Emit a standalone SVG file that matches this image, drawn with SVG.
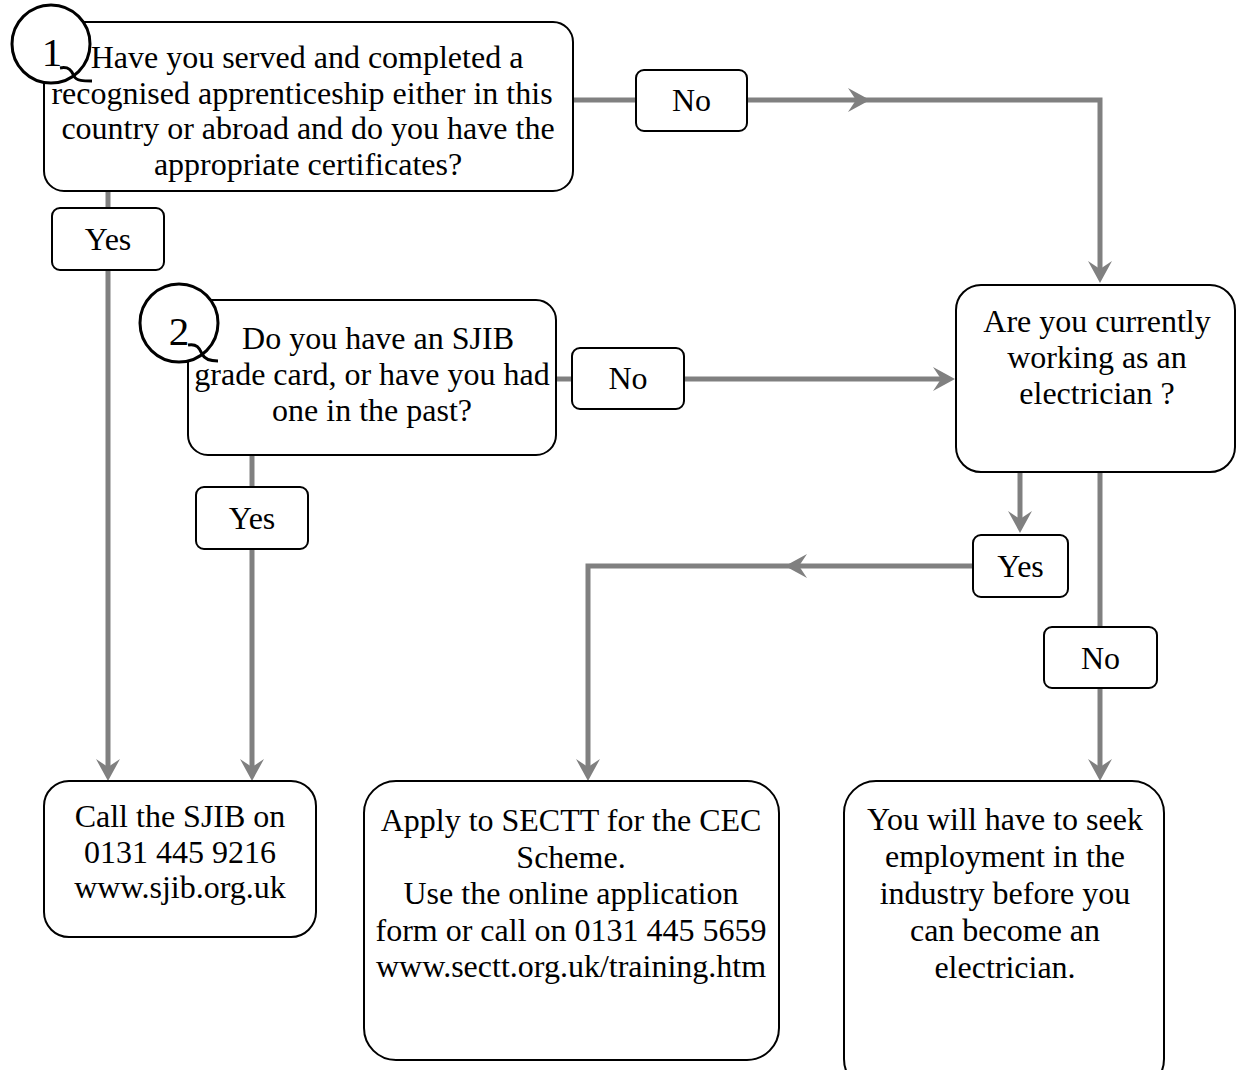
<svg xmlns="http://www.w3.org/2000/svg" width="1236" height="1070" viewBox="0 0 1236 1070">
<style>
.box{fill:#fff;stroke:#000;stroke-width:2}
.lbl{fill:#fff;stroke:#000;stroke-width:2}
.num{fill:#fff;stroke:#000;stroke-width:3}
.tail{fill:none;stroke:#000;stroke-width:3}
text{font-family:"Liberation Serif","Times New Roman",serif;font-size:32px;fill:#000;text-anchor:middle}
text.n{font-size:41px}
.conn{fill:none;stroke:#808080;stroke-width:5}
.arr{marker-end:url(#ah)}
</style>
<defs>
<marker id="ah" viewBox="0 0 22 24" refX="9" refY="12" markerWidth="22" markerHeight="24" markerUnits="userSpaceOnUse" orient="auto">
<path d="M0,0 L22,12 L0,24 L8,12 Z" fill="#808080"/>
</marker>
</defs>
<rect width="1236" height="1070" fill="#fff"/>
<g id="connectors">
<path class="conn" d="M573,100 L636,100"/>
<path class="conn arr" d="M747,100 L857,100"/>
<path class="conn arr" d="M855,100 L1100,100 L1100,270"/>
<path class="conn" d="M556,379 L572,379"/>
<path class="conn arr" d="M684,379 L942,379"/>
<path class="conn" d="M108,191 L108,208"/>
<path class="conn arr" d="M108,270 L108,768"/>
<path class="conn" d="M252,455 L252,487"/>
<path class="conn arr" d="M252,549 L252,768"/>
<path class="conn arr" d="M1020,472 L1020,520"/>
<path class="conn arr" d="M973,566 L798,566"/>
<path class="conn arr" d="M800,566 L588,566 L588,768"/>
<path class="conn" d="M1100,472 L1100,627"/>
<path class="conn arr" d="M1100,688 L1100,768"/>
</g>
<g id="q1">
<rect class="box" x="44" y="22" width="529" height="169" rx="20"/>
<circle class="num" cx="51" cy="44" r="39"/>
<path class="tail" d="M60,68 C70,66 72,72 74,76 C76,81 84,81 92,81"/>
<text class="n" x="52" y="66">1</text>
<text x="307" y="68">Have you served and completed a</text>
<text x="302" y="103.5">recognised apprenticeship either in this</text>
<text x="308" y="139">country or abroad and do you have the</text>
<text x="308" y="174.5">appropriate certificates?</text>
</g>
<g id="q1-no">
<rect class="lbl" x="636" y="70" width="111" height="61" rx="8"/>
<text x="691.5" y="111">No</text>
</g>
<g id="q1-yes">
<rect class="lbl" x="52" y="208" width="112" height="62" rx="8"/>
<text x="108" y="250">Yes</text>
</g>
<g id="q2">
<rect class="box" x="188" y="300" width="368" height="155" rx="20"/>
<circle class="num" cx="179" cy="323" r="39"/>
<path class="tail" d="M188,345 C198,343 200,350 202,354 C205,360 212,361 218,361"/>
<text class="n" x="179" y="345">2</text>
<text x="378" y="349">Do you have an SJIB</text>
<text x="372" y="385">grade card, or have you had</text>
<text x="372" y="421">one in the past?</text>
</g>
<g id="q2-no">
<rect class="lbl" x="572" y="348" width="112" height="61" rx="8"/>
<text x="628" y="389">No</text>
</g>
<g id="q2-yes">
<rect class="lbl" x="196" y="487" width="112" height="62" rx="8"/>
<text x="252" y="529">Yes</text>
</g>
<g id="q3">
<rect class="box" x="956" y="285" width="279" height="187" rx="25"/>
<text x="1097" y="332">Are you currently</text>
<text x="1097" y="368">working as an</text>
<text x="1097" y="404">electrician ?</text>
</g>
<g id="q3-yes">
<rect class="lbl" x="973" y="535" width="95" height="62" rx="8"/>
<text x="1020.5" y="577">Yes</text>
</g>
<g id="q3-no">
<rect class="lbl" x="1044" y="627" width="113" height="61" rx="8"/>
<text x="1100.5" y="669">No</text>
</g>
<g id="sjib">
<rect class="box" x="44" y="781" width="272" height="156" rx="25"/>
<text x="180" y="827">Call the SJIB on</text>
<text x="180" y="863">0131 445 9216</text>
<text x="180" y="898">www.sjib.org.uk</text>
</g>
<g id="sectt">
<rect class="box" x="364" y="781" width="415" height="279" rx="32"/>
<text x="571" y="831">Apply to SECTT for the CEC</text>
<text x="571" y="867.5">Scheme.</text>
<text x="571" y="904">Use the online application</text>
<text x="571" y="940.5">form or call on 0131 445 5659</text>
<text x="571" y="977">www.sectt.org.uk/training.htm</text>
</g>
<g id="seek">
<rect class="box" x="844" y="781" width="320" height="310" rx="32"/>
<text x="1005" y="830">You will have to seek</text>
<text x="1005" y="867">employment in the</text>
<text x="1005" y="904">industry before you</text>
<text x="1005" y="941">can become an</text>
<text x="1005" y="978">electrician.</text>
</g>
</svg>
